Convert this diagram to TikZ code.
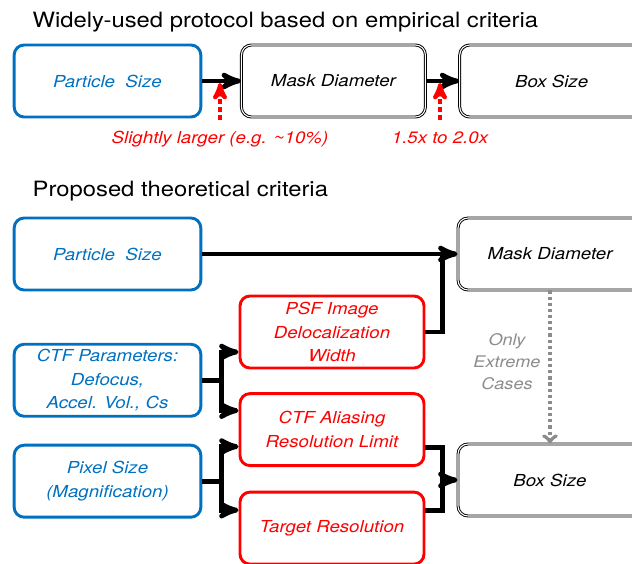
\documentclass[tikz,border=0pt]{standalone}
\usepackage{fontspec}
\setsansfont[FakeStretch=1.13]{TeX Gyre Heros}
\usetikzlibrary{arrows,positioning}
\definecolor{boxblue}{RGB}{0,112,192}
\definecolor{casegray}{RGB}{140,140,140}

\begin{document}
\begin{tikzpicture}[x=0.75pt,y=-0.75pt,>=stealth',
    every node/.style={font=\sffamily\itshape\fontsize{12.4}{17.5}\selectfont},
    title/.style={font=\sffamily\fontsize{15.8}{19}\selectfont,anchor=base west},
    box/.style={rounded corners=7.5pt,align=center,minimum height=54pt,minimum width=138pt,inner sep=2pt},
    input node/.style={box,draw=boxblue,text=boxblue,line width=2.2pt,minimum width=140pt},
    derived node/.style={box,draw=red,text=red,line width=2.2pt},
    result node/.style={box,draw=black,double=white,double distance=0.8pt,line width=0.7pt},
    note/.style={text=red,anchor=base,text height=9.3pt,text depth=2.9pt},
    link/.style={->,line width=3.6pt},
    line/.style={line width=3.6pt},
    hint/.style={->,red,line width=3pt,dash pattern=on 3.5pt off 2.5pt,shorten >=1.5pt},
    case/.style={-to,casegray,line width=3pt,dash pattern=on 2.4pt off 2.2pt}]

\useasboundingbox (0,0) rectangle (632,564);

\node[title] (t1) at (28,27) {Widely-used protocol based on empirical criteria};
\node[input node] (ps1) at (107.5,81) {Particle\ \ Size};
\node[result node] (md1) [right=29pt of ps1] {Mask Diameter};
\node[result node] (bx1) [right=25pt of md1] {Box Size};
\node[note] (sl) at (220,143) {Slightly larger (e.g. \textasciitilde10\%)};
\node[note] (fx) at (440,143) {1.5x to 2.0x};

\draw[link] (ps1) -- (md1);
\draw[link] (md1) -- (bx1);
\draw[hint] ([yshift=4.5pt]sl.north) -- (sl.north |- ps1.east);
\draw[hint] ([yshift=4.5pt]fx.north) -- (fx.north |- md1.east);

\node[title] (t2) at (28,196) {Proposed theoretical criteria};
\node[input node] (ps2) at (107.5,254) {Particle\ \ Size};
\node[input node] (ctf) [below=38.5pt of ps2] {CTF Parameters:\\Defocus,\\Accel. Vol., Cs};
\node[input node] (pix) [below=19.5pt of ctf] {Pixel Size\\(Magnification)};
\node[derived node] (psf) at (332,332) {PSF Image\\Delocalization\\Width};
\node[derived node] (ali) [below=17pt of psf] {CTF Aliasing\\Resolution Limit};
\node[derived node] (tgt) [below=17.7pt of ali] {Target Resolution};
\node[result node] (md2) at (550,254) {Mask Diameter};
\node[result node] (bs2) at (550,480) {Box Size};
\node[text=casegray,font=\sffamily\itshape\fontsize{12}{16.5}\selectfont,align=center] (oc) at (507,362) {Only\\Extreme\\Cases};

\draw[link] (ps2) -- (md2);
\draw[line] (psf.east) -- ++(17,0) coordinate (j1) -- (j1 |- md2.west);
\draw[link] (ctf.east) -- ++(19,0) coordinate (c1) |- ([yshift=-15pt]psf.west);
\draw[link] (c1) |- ([yshift=14.25pt]ali.west);
\draw[link] (pix.east) -- ++(19,0) coordinate (p1) |- ([yshift=-12.75pt]ali.west);
\draw[link] (p1) |- ([yshift=13.5pt]tgt.west);
\draw[line] ([yshift=-13.5pt]ali.east) -- ++(17,0) coordinate (a1) |- ([yshift=13.5pt]tgt.east);
\draw[link] (a1 |- bs2.west) -- (bs2.west);
\draw[case] (md2) -- (bs2);

\end{tikzpicture}
\end{document}
